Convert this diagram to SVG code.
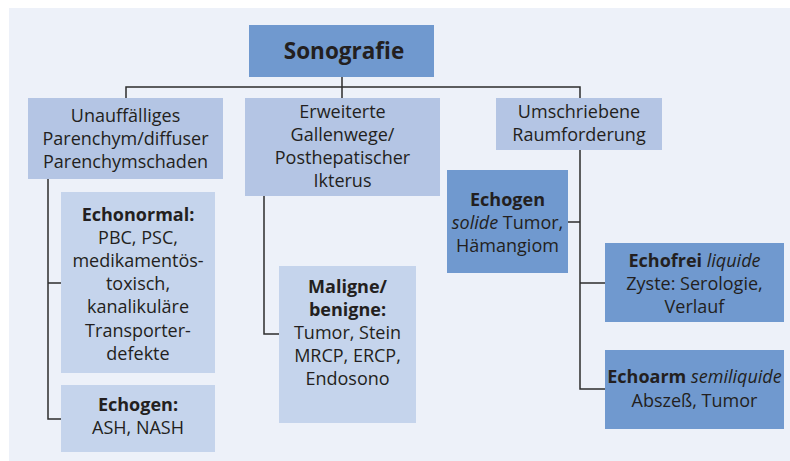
<svg xmlns="http://www.w3.org/2000/svg" width="790" height="461" viewBox="0 0 790 461">
<style>
.bg{fill:#edf1f9}
.dark{fill:#7099cf}
.mid{fill:#b4c5e4}
.light{fill:#c5d4ec}
text{font-family:"Open Sans","Noto Sans","Liberation Sans",sans-serif;font-size:18px;fill:#231f20;text-anchor:middle}
.b{font-weight:bold}
.i{font-style:italic}
.title{font-size:22.5px;font-weight:bold}
.con{stroke:#2d2d2d;stroke-width:1.5;fill:none}
</style>
<rect x="0" y="0" width="790" height="461" fill="#ffffff"/>
<rect class="bg" x="9" y="8" width="781" height="453"/>
<g id="connectors">
<path class="con" d="M342,77 V98 M126,98 V87 H580 V98"/>
<path class="con" d="M48,179 V419 H61 M48,283 H61"/>
<path class="con" d="M264,196 V334 H279"/>
<path class="con" d="M580,150 V389 H605 M568,222 H580 M580,283 H605"/>
</g>
<g id="sonografie">
<rect class="dark" x="249" y="25" width="185" height="52"/>
<text class="title" x="344" y="59">Sonografie</text>
</g>
<g id="unauffaellig">
<rect class="mid" x="28" y="98" width="195" height="81"/>
<text x="125.5" y="122">Unauffälliges</text>
<text x="125.5" y="145">Parenchym/diffuser</text>
<text x="125.5" y="168">Parenchymschaden</text>
</g>
<g id="erweiterte">
<rect class="mid" x="245" y="98" width="195" height="98"/>
<text x="342.5" y="118">Erweiterte</text>
<text x="342.5" y="141">Gallenwege/</text>
<text x="342.5" y="164">Posthepatischer</text>
<text x="342.5" y="187">Ikterus</text>
</g>
<g id="umschriebene">
<rect class="mid" x="496" y="98" width="166" height="52"/>
<text x="579" y="118">Umschriebene</text>
<text x="579" y="141">Raumforderung</text>
</g>
<g id="echonormal">
<rect class="light" x="61" y="192" width="154" height="181"/>
<text class="b" x="138" y="221">Echonormal:</text>
<text x="138" y="244">PBC, PSC,</text>
<text x="138" y="267">medikamentös-</text>
<text x="138" y="290">toxisch,</text>
<text x="138" y="313">kanalikuläre</text>
<text x="138" y="337">Transporter-</text>
<text x="138" y="360">defekte</text>
</g>
<g id="echogen-ash">
<rect class="light" x="61" y="385" width="154" height="67"/>
<text class="b" x="138" y="411">Echogen:</text>
<text x="138" y="434">ASH, NASH</text>
</g>
<g id="maligne">
<rect class="light" x="279" y="266" width="137" height="157"/>
<text class="b" x="347.5" y="293">Maligne/</text>
<text class="b" x="347.5" y="316">benigne:</text>
<text x="347.5" y="339">Tumor, Stein</text>
<text x="347.5" y="362">MRCP, ERCP,</text>
<text x="347.5" y="385">Endosono</text>
</g>
<g id="echogen-solide">
<rect class="dark" x="447" y="170" width="121" height="103"/>
<text class="b" x="507.5" y="206">Echogen</text>
<text x="507.5" y="229"><tspan class="i">solide</tspan> Tumor,</text>
<text x="507.5" y="252">Hämangiom</text>
</g>
<g id="echofrei">
<rect class="dark" x="605" y="243" width="179" height="79"/>
<text x="694.5" y="267"><tspan class="b">Echofrei</tspan> <tspan class="i">liquide</tspan></text>
<text x="694.5" y="290">Zyste: Serologie,</text>
<text x="694.5" y="313">Verlauf</text>
</g>
<g id="echoarm">
<rect class="dark" x="605" y="350" width="179" height="79"/>
<text x="694.5" y="383"><tspan class="b">Echoarm</tspan> <tspan class="i">semiliquide</tspan></text>
<text x="694.5" y="407">Abszeß, Tumor</text>
</g>
</svg>
